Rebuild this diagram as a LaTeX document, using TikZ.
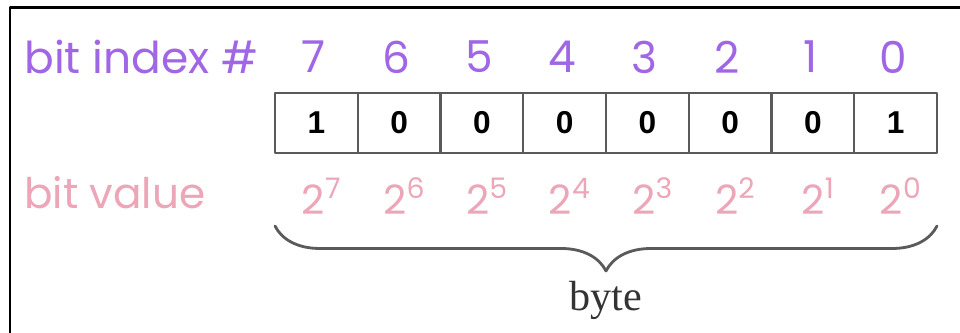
\documentclass[tikz,border=0pt]{standalone}
\usepackage{fontspec}
\setmainfont{Liberation Serif}
\newfontfamily\gothic{Poppins}
\newfontfamily\arial{Liberation Sans}
\usetikzlibrary{decorations.pathreplacing}
\definecolor{idxpurple}{RGB}{160,102,230}
\definecolor{valpink}{RGB}{236,166,184}
\definecolor{boxgray}{RGB}{90,90,90}

\begin{document}
\begin{tikzpicture}[x=0.02cm, y=-0.02cm, line join=round, line cap=round,
    bitcell/.style={draw=boxgray, line width=1.3pt, minimum width=1.655cm, minimum height=1.2cm,
      inner sep=0pt, outer sep=0pt, font=\arial\bfseries\fontsize{18}{18}\selectfont},
    idxnum/.style={text=idxpurple, font=\gothic\fontsize{25}{25}\selectfont, inner sep=0pt},
    valnum/.style={text=valpink, font=\gothic\fontsize{23}{23}\selectfont, inner sep=0pt}]
  \useasboundingbox (0,0) rectangle (960,333);
  % frame
  \draw[line width=1.7pt, line cap=butt] (10,333) -- (10,8) -- (960,8);
  % labels on the left
  \node[idxnum, anchor=west] (idxlabel) at (24,57) {bit index \#};
  \node[valnum, anchor=west, font=\gothic\fontsize{24}{24}\selectfont] (vallabel) at (24,193) {bit value};
  % the eight bits
  \foreach \b/\v [count=\i from 0] in {7/1,6/0,5/0,4/0,3/0,2/0,1/0,0/1} {
    \node[bitcell] (c\b) at ({275+82.75*(\i+0.5)},123) {\v};
    \node[idxnum] (i\b) at ([xshift=-1.5pt]c\b |- 0,57) {\b};
    \node[valnum] (p\b) at ([xshift=3pt]c\b |- 0,196) {2\textsuperscript{\b}};
  }
  % brace
  \coordinate (bl) at (275,226);
  \coordinate (br) at (937,226);
  \draw[boxgray, line width=1.6pt, decorate, decoration={brace, mirror, amplitude=0.9cm}] (bl) -- (br);
  \node[text=black!80, font=\fontsize{24}{24}\selectfont] (byte) at (606,300) {byte};
\end{tikzpicture}
\end{document}
